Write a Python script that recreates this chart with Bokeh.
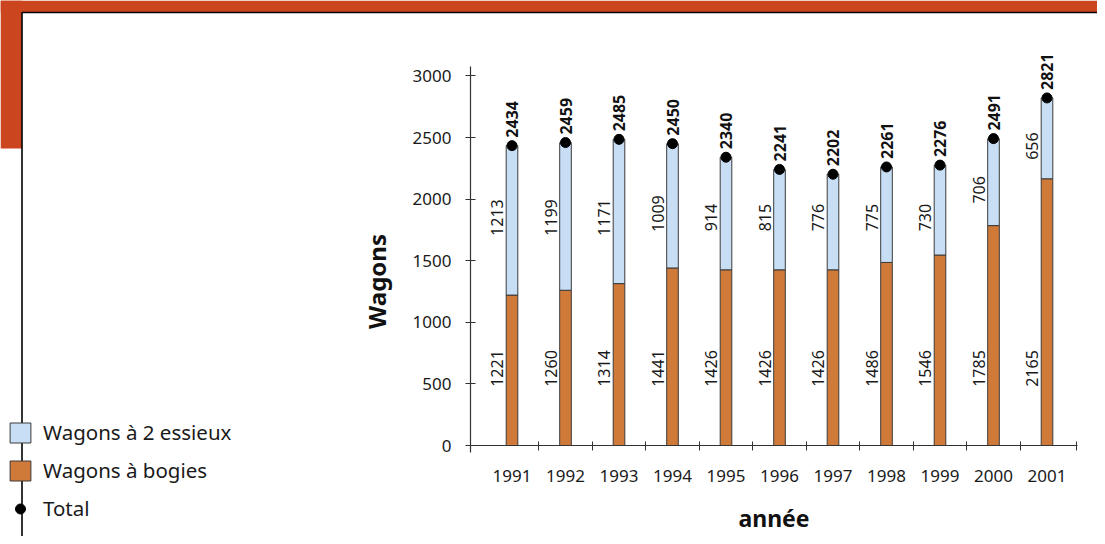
import math
from bokeh.plotting import figure
from bokeh.models import Range1d, FixedTicker, ColumnDataSource, Legend, LegendItem
from bokeh.core.properties import value
from bokeh.embed import file_html
from bokeh.resources import INLINE

# ---- data ----
years = ["1991", "1992", "1993", "1994", "1995", "1996", "1997", "1998", "1999", "2000", "2001"]
bogies = [1221, 1260, 1314, 1441, 1426, 1426, 1426, 1486, 1546, 1785, 2165]
essieux = [1213, 1199, 1171, 1009, 914, 815, 776, 775, 730, 706, 656]
totals = [2434, 2459, 2485, 2450, 2340, 2241, 2202, 2261, 2276, 2491, 2821]
y_ticks = [0, 500, 1000, 1500, 2000, 2500, 3000]

# ---- layout constants (pixels of the picture) ----
W, H = 1097, 536
ORG = 0
CX0 = 511.5      # x of first category centre
PX_X = 53.5      # px per category
Y0 = 445.0       # y of value 0
PX_Y = 0.1232    # px per unit


def X(px):
    return (px - CX0) / PX_X


def Y(py):
    return (Y0 - py) / PX_Y


FONT = value("Noto Sans")
BLUE = "#C8DEF5"
ORANGE = "#D07A3A"
RED = "#CB451E"

idx = list(range(len(years)))
tops = [b + e for b, e in zip(bogies, essieux)]
mid_e = [b + e / 2 for b, e in zip(bogies, essieux)]
lab_e = [max(1850, m - 63) for m in mid_e]
lab_b = [625 for _ in bogies]

src = ColumnDataSource(dict(x=idx, bogies=bogies, essieux=essieux, tops=tops,
                            totals=totals, lab_e=lab_e, lab_b=lab_b,
                            t_e=[str(v) for v in essieux], t_b=[str(v) for v in bogies],
                            t_t=[str(v) for v in totals]))

p = figure(width=W, height=H,
           x_range=Range1d(X(ORG), X(ORG + W)),
           y_range=Range1d(Y(ORG + H), Y(ORG)),
           output_backend="svg", toolbar_location=None,
           min_border=0, min_border_left=0, min_border_right=0,
           min_border_top=0, min_border_bottom=0)
p.outline_line_color = None
p.xgrid.visible = False
p.ygrid.visible = False
p.background_fill_color = "white"

# ---- decoration ----
p.quad(left=[X(ORG)], right=[X(ORG + W)], top=[Y(ORG)], bottom=[Y(12)],
       fill_color=RED, line_color=None)
p.quad(left=[X(ORG)], right=[X(21.5)], top=[Y(ORG)], bottom=[Y(148)],
       fill_color=RED, line_color=None)
p.line(x=[X(21.5), X(21.5), X(ORG + W)], y=[Y(ORG + H), Y(12), Y(12)],
       line_color="black", line_width=1.6)

# ---- bars ----
bw = 11.6 / PX_X
rb = p.vbar(x="x", bottom=0, top="bogies", width=bw, source=src,
            fill_color=ORANGE, line_color="#3a3a3a", line_width=1)
re = p.vbar(x="x", bottom="bogies", top="tops", width=bw, source=src,
            fill_color=BLUE, line_color="#3a3a3a", line_width=1)
rt = p.scatter(x="x", y="totals", source=src, size=10, marker="circle",
               fill_color="black", line_color="black")

p.text(x="x", y="lab_e", text="t_e", source=src, angle=math.pi / 2,
       x_offset=-15, text_align="center", text_baseline="middle",
       text_font=FONT, text_font_size="16px", text_color="#1a1a1a")
p.text(x="x", y="lab_b", text="t_b", source=src, angle=math.pi / 2,
       x_offset=-15, text_align="center", text_baseline="middle",
       text_font=FONT, text_font_size="16px", text_color="#1a1a1a")
p.text(x="x", y="totals", text="t_t", source=src, angle=math.pi / 2,
       y_offset=-8, text_align="left", text_baseline="middle",
       text_font=FONT, text_font_size="16px", text_font_style="bold",
       text_color="#111111")

# y axis title
p.text(x=[X(376)], y=[Y(281)], text=["Wagons"], angle=math.pi / 2,
       text_align="center", text_baseline="middle",
       text_font=FONT, text_font_size="24px", text_font_style="bold",
       text_color="#111111")

# ---- axes ----
xa = p.xaxis[0]
xa.fixed_location = 0
xa.bounds = (X(470), X(1076) + 0.01)
xa.ticker = FixedTicker(ticks=idx, minor_ticks=[i + 0.5 for i in idx[:-1]] + [X(1076)])
xa.major_label_overrides = {i: y for i, y in zip(idx, years)}
xa.major_tick_line_color = None
xa.minor_tick_in = 4
xa.minor_tick_out = 5
xa.minor_tick_line_color = "#333333"
xa.axis_line_color = "#333333"
xa.axis_line_width = 1.2
xa.major_label_standoff = 18
xa.major_label_text_font = "Noto Sans"
xa.major_label_text_font_size = "17px"
xa.major_label_text_color = "#1a1a1a"
xa.axis_label = "année"
xa.axis_label_text_font = "Noto Sans"
xa.axis_label_text_font_size = "23px"
xa.axis_label_text_font_style = "bold"
xa.axis_label_text_color = "#111111"
xa.axis_label_standoff = 17

ya = p.yaxis[0]
ya.fixed_location = X(470)
ya.bounds = (-55, 3075)
ya.ticker = FixedTicker(ticks=y_ticks, minor_ticks=[])
ya.major_tick_in = 5
ya.major_tick_out = 5
ya.major_tick_line_color = "#333333"
ya.axis_line_color = "#333333"
ya.axis_line_width = 1.2
ya.major_label_standoff = 14
ya.major_label_text_font = "Noto Sans"
ya.major_label_text_font_size = "17px"
ya.major_label_text_color = "#1a1a1a"

# ---- legend ----
legend = Legend(items=[LegendItem(label="Wagons à 2 essieux", renderers=[re]),
                       LegendItem(label="Wagons à bogies", renderers=[rb]),
                       LegendItem(label="Total", renderers=[rt])],
                location=(7, 14), orientation="vertical",
                glyph_width=26, glyph_height=25, label_height=25,
                label_standoff=10, spacing=10, padding=0, margin=0,
                border_line_color=None, background_fill_alpha=0,
                label_text_font="Noto Sans", label_text_font_size="20.5px",
                label_text_color="#1a1a1a")
p.add_layout(legend, "center")

open("out.html", "w").write(file_html(p, INLINE))
